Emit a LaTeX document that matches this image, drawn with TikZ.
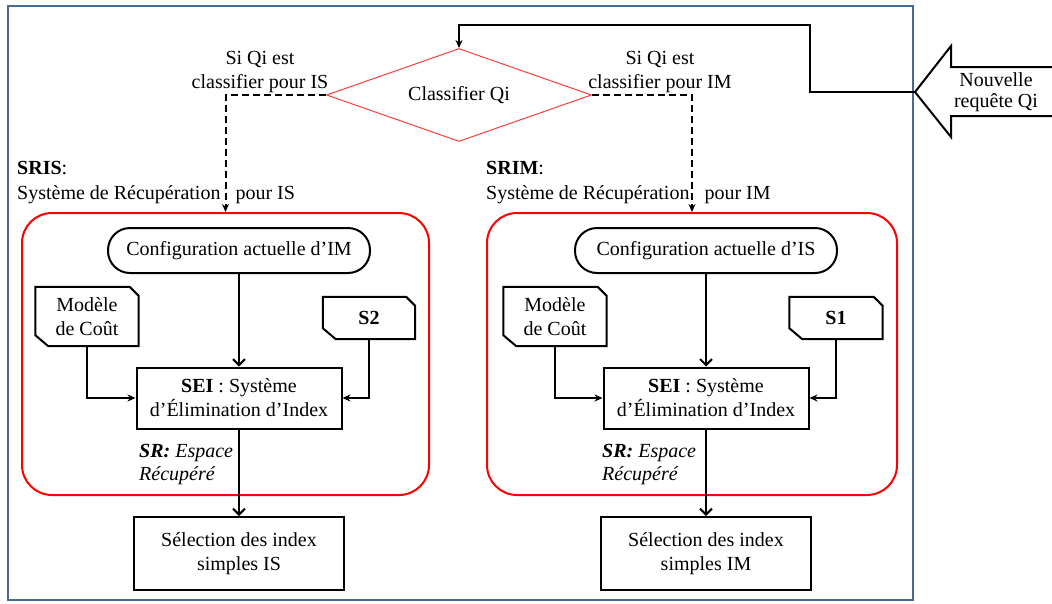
\documentclass[tikz,border=0pt]{standalone}
\usepackage{fontspec}
\setmainfont{Liberation Serif}
\usetikzlibrary{arrows.meta,shapes.geometric}
\definecolor{frameblue}{RGB}{72,104,150}
\definecolor{boxred}{RGB}{255,0,0}
\definecolor{diared}{RGB}{255,60,60}
\newcommand\cutframe[1]{\draw[line width=2pt, line join=miter] (#1.north west) -- ([xshift=-9pt]#1.north east) -- ([yshift=-9pt]#1.north east) -- (#1.south east) -- ([xshift=13pt]#1.south west) -- ([yshift=11pt]#1.south west) -- cycle;}
\begin{document}
\begin{tikzpicture}[x=1pt,y=-1pt,
  every node/.style={font=\fontsize{20}{24}\selectfont, inner sep=0pt},
  pill/.style={draw, line width=2pt, rounded corners=22pt, minimum width=262pt, minimum height=45pt},
  seibox/.style={draw, line width=2pt, minimum width=205pt, minimum height=61pt, align=center},
  selbox/.style={draw, line width=2pt, minimum width=210pt, minimum height=73pt, align=center},
  cutbox/.style={align=center},
  redbox/.style={draw=boxred, line width=2pt, rounded corners=30pt, minimum height=282pt},
  arr/.style={line width=2pt, -{Straight Barb[length=6pt,width=12pt]}},
  sidearr/.style={line width=2pt, -{Stealth[length=8pt,width=7pt]}},
  dasharr/.style={line width=2pt, dash pattern=on 7pt off 4pt, -{Stealth[length=8pt,width=7pt]}}]
\useasboundingbox (0,0) rectangle (1052,603);
\draw[frameblue, line width=2pt] (8,6) rectangle (913,600);

% decision
\node[diamond, draw=diared, line width=1pt, minimum width=265pt, minimum height=93pt, aspect=2.85] (cl) at (459,95) {Classifier Qi};
\node[align=center] (l1) at (260,72) {Si Qi est\\classifier pour IS};
\node[align=center] (l2) at (660,72) {Si Qi est\\classifier pour IM};

% incoming arrow
\coordinate (tip) at (915,92);
\node[align=center, font=\fontsize{20}{21}\selectfont] (nq) at (996,92) {Nouvelle\\requête Qi};
\draw[line width=2pt, line join=miter] (1052,67) -- (951,67) -- (951,46) -- (tip) -- (951,137) -- (951,116) -- (1052,116);
\draw[sidearr] (tip) -- (810,92) |- ([yshift=23.5pt]cl.north) -- (cl.north);

% red boxes
\node[redbox, minimum width=407pt] (r1) at (225.5,354) {};
\node[redbox, minimum width=410pt] (r2) at (692,354) {};
\draw[dasharr] (cl.west) -| (r1.north);
\draw[dasharr] (cl.east) -| (r2.north);

% titles
\node[anchor=base west] (sris) at (17,174) {\textbf{SRIS}:};
\node[anchor=base west] (srisd) at (17,199) {Système de Récupération\hspace{10pt} pour IS};
\node[anchor=base west] (srim) at (486,174) {\textbf{SRIM}:};
\node[anchor=base west] (srimd) at (486,199) {Système de Récupération\hspace{10pt} pour IM};

% left system
\node[pill] (c1) at (239,250.5) {Configuration actuelle d’IM};
\node[cutbox, minimum width=103pt, minimum height=59pt] (m1) at (87,316.5) {Modèle\\de Coût};
\cutframe{m1}
\node[cutbox, minimum width=92pt, minimum height=42pt] (s2) at (369,318) {\textbf{S2}};
\cutframe{s2}
\node[seibox] (e1) at (239,398) {\textbf{SEI} : Système\\d’Élimination d’Index};
\node[anchor=base west] (sr1a) at (139,457) {\textbf{\textit{SR:}} \textit{Espace}};
\node[anchor=base west] (sr1b) at (139,480) {\textit{Récupéré}};
\node[selbox] (sel1) at (239,553.5) {Sélection des index\\simples IS};
\draw[arr] (c1) -- (e1);
\draw[sidearr] (m1.south) |- (e1.west);
\draw[sidearr] (s2.south) |- (e1.east);
\draw[arr] (e1) -- (sel1);

% right system
\node[pill] (c2) at (706,250.5) {Configuration actuelle d’IS};
\node[cutbox, minimum width=103pt, minimum height=59pt] (m2) at (555,316.5) {Modèle\\de Coût};
\cutframe{m2}
\node[cutbox, minimum width=93pt, minimum height=42pt] (s1) at (836,318) {\textbf{S1}};
\cutframe{s1}
\node[seibox] (e2) at (706,398) {\textbf{SEI} : Système\\d’Élimination d’Index};
\node[anchor=base west] (sr2a) at (602,457) {\textbf{\textit{SR:}} \textit{Espace}};
\node[anchor=base west] (sr2b) at (602,480) {\textit{Récupéré}};
\node[selbox] (sel2) at (706,553.5) {Sélection des index\\simples IM};
\draw[arr] (c2) -- (e2);
\draw[sidearr] (m2.south) |- (e2.west);
\draw[sidearr] (s1.south) |- (e2.east);
\draw[arr] (e2) -- (sel2);
\end{tikzpicture}
\end{document}
